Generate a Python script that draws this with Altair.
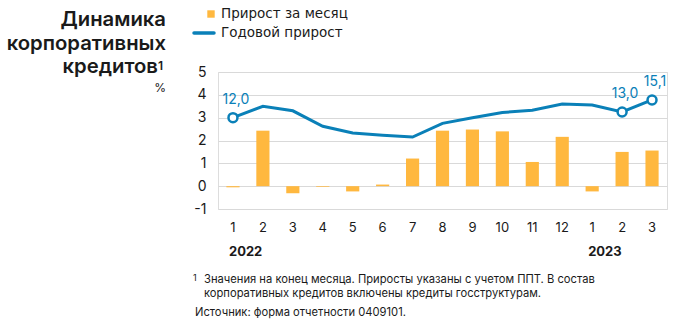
import altair as alt
import pandas as pd

months = ["1", "2", "3", "4", "5", "6", "7", "8", "9", "10", "11", "12", "1", "2", "3"]
years = ["2022"] * 12 + ["2023"] * 3
monthly = [-0.05, 2.43, -0.31, -0.03, -0.23, 0.07, 1.21, 2.43, 2.48, 2.40, 1.06, 2.16, -0.23, 1.50, 1.56]
annual = [12.0, 14.0, 13.2, 10.5, 9.3, 8.9, 8.6, 11.0, 12.0, 12.9, 13.3, 14.4, 14.2, 13.0, 15.1]
labeled = [True] + [False] * 12 + [True, True]
year_marks = {0: "2022", 12: "2023"}
y_ticks = [-1, 0, 1, 2, 3, 4, 5]

keys = [f"{y}-{m}" for y, m in zip(years, months)]
df = pd.DataFrame({
    "key": keys, "month": months, "year": years,
    "monthly": monthly, "annual": annual, "labeled": labeled,
})
df["annual_s"] = df["annual"] / 4.0
df["lbl"] = [f"{v:.1f}".replace(".", ",") for v in annual]

BLUE = "#0a80b8"
ORANGE = "#ffb83f"
TXT = "#1a1a1a"
W, H = 449, 137

xaxis = alt.Axis(labelExpr="split(datum.value, '-')[1]", domain=False, ticks=False,
                 labelPadding=12, labelFontSize=13, labelColor=TXT, labelFont="Inter",
                 labelAngle=0, grid=False)
xscale = alt.Scale(paddingInner=0.56, paddingOuter=0.28)
yaxis = alt.Axis(values=y_ticks, domain=False, ticks=False, labelOverlap=False,
                 labelPadding=12, labelFontSize=14, labelColor=TXT, labelFont="Inter",
                 gridColor="#d9d9d9", gridWidth=1, labelExpr="datum.value")
yscale = alt.Scale(domain=[-1, 5], nice=False)


def X():
    return alt.X("key:N", sort=keys, title=None, scale=xscale, axis=xaxis)


def Y(field):
    return alt.Y(field, scale=yscale, title=None, axis=yaxis)


base = alt.Chart(df)

bars = base.mark_bar(color=ORANGE).encode(x=X(), y=Y("monthly:Q"))

line = base.mark_line(color=BLUE, strokeWidth=3).encode(x=X(), y=Y("annual_s:Q"))

pts = base.transform_filter("datum.labeled").mark_point(
    shape="circle", filled=True, fill="white", stroke=BLUE, strokeWidth=2.5, size=80, opacity=1
).encode(x=X(), y=Y("annual_s:Q"))

plabels = base.transform_filter("datum.labeled").mark_text(
    color=BLUE, fontSize=14, font="Inter", dy=-18, dx=3
).encode(x=X(), y=Y("annual_s:Q"), text="lbl:N")

ydf = pd.DataFrame({"key": [keys[i] for i in year_marks], "yr": list(year_marks.values())})
yrs = alt.Chart(ydf).mark_text(
    fontSize=13, fontWeight="bold", font="Inter", color=TXT, align="left", dx=-4, baseline="middle"
).encode(x=X(), y=alt.value(H + 43), text="yr:N")

# title
title_lines = ["Динамика", "корпоративных", "кредитов"]
title_x = [-52, -52, -60]
title = alt.layer(*[
    alt.Chart(pd.DataFrame({"t": [t]})).mark_text(
        fontSize=20.3, fontWeight=600, font="Inter", color=TXT, align="right", baseline="alphabetic"
    ).encode(x=alt.value(title_x[i]), y=alt.value(-46 + 23.5 * i), text="t:N")
    for i, t in enumerate(title_lines)
])
sup = alt.Chart(pd.DataFrame({"t": ["1"]})).mark_text(
    fontSize=12, font="Inter", fontWeight=600, color=TXT, align="left", baseline="top"
).encode(x=alt.value(-60), y=alt.value(-11), text="t:N")
pct = alt.Chart(pd.DataFrame({"t": ["%"]})).mark_text(
    fontSize=12, font="Inter", color=TXT, align="right", baseline="middle"
).encode(x=alt.value(-52), y=alt.value(16), text="t:N")

# legend
leg_sq = alt.Chart(pd.DataFrame({"a": [1]})).mark_square(color=ORANGE, size=55, opacity=1).encode(
    x=alt.value(-7), y=alt.value(-58))
leg_ln = alt.Chart(pd.DataFrame({"a": [1]})).mark_rule(color=BLUE, strokeWidth=3.5, strokeCap="round").encode(
    x=alt.value(-24), x2=alt.value(-4), y=alt.value(-39))
leg_txt = alt.Chart(pd.DataFrame({"t": ["Прирост за месяц", "Годовой прирост"], "yy": [-58, -39]})).mark_text(
    fontSize=13.5, font="DejaVu Sans", color=TXT, align="left", baseline="middle"
).encode(x=alt.value(3), y=alt.Y("yy:Q", scale=None), text="t:N")

# footnote
fn_sup = alt.Chart(pd.DataFrame({"t": ["1"]})).mark_text(
    fontSize=9, font="Inter", color=TXT, align="left", baseline="middle"
).encode(x=alt.value(-25), y=alt.value(H + 69), text="t:N")
fn = alt.Chart(pd.DataFrame({
    "t": ["Значения на конец месяца. Приросты указаны с учетом ППТ. В состав",
          "корпоративных кредитов включены кредиты госструктурам.",
          "Источник: форма отчетности 0409101."],
    "xx": [-14, -14, -23], "yy": [H + 71, H + 85, H + 104],
})).mark_text(
    fontSize=11.2, font="Inter", color=TXT, align="left", baseline="middle"
).encode(x=alt.X("xx:Q", scale=None), y=alt.Y("yy:Q", scale=None), text="t:N")

chart = alt.layer(
    bars, line, pts, plabels, yrs, title, sup, pct, leg_sq, leg_ln, leg_txt, fn_sup, fn
).resolve_scale(y="shared").properties(
    width=W, height=H,
    autosize=alt.AutoSizeParams(type="none"),
    padding={"left": 218, "top": 72, "right": 9, "bottom": 119},
).configure_view(stroke=None).configure(background="white")

chart.save("out.html", embed_options={"renderer": "svg", "actions": False})
